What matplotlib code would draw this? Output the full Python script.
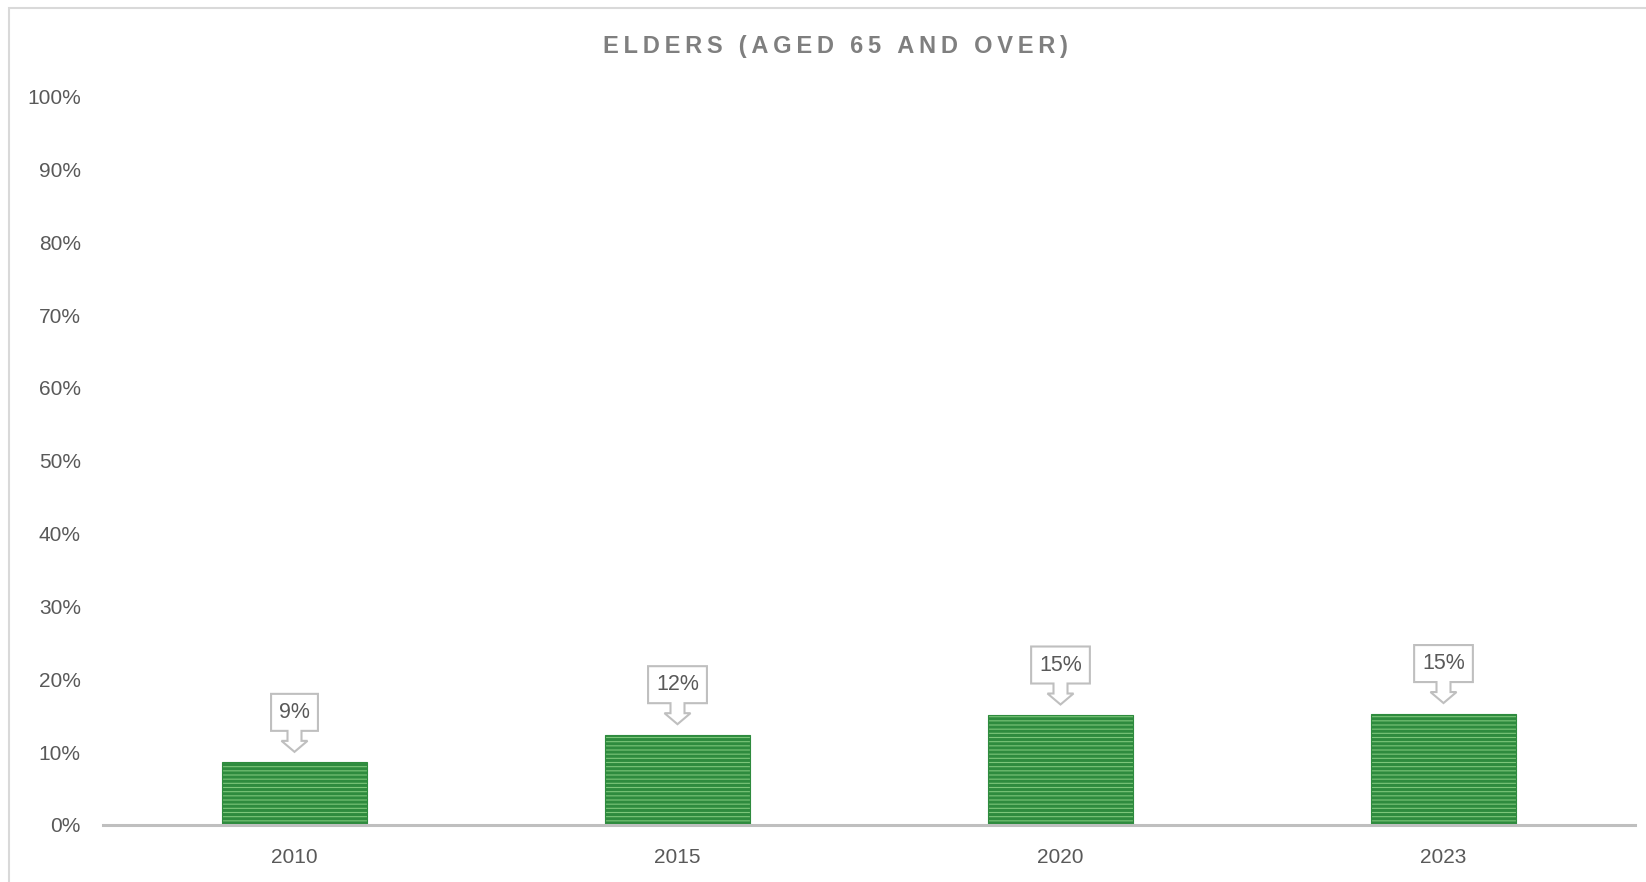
import matplotlib
matplotlib.use("Agg")
import matplotlib.pyplot as plt
from matplotlib.path import Path
from matplotlib.patches import Rectangle

# Data
years = ["2010", "2015", "2020", "2023"]
shares = [0.086, 0.124, 0.151, 0.153]
title = "ELDERS (AGED 65 AND OVER)"

TEXT = "#595959"
GRID = "#bfbfbf"


def callout_down(x0, y0, width, height, mutation_size):
    # box with a down arrow under it (display pixels)
    padx, pady = 8, 8
    x0 -= padx
    y0 -= pady
    w = width + 2 * padx
    h = height + 2 * pady
    cx = x0 + w / 2
    verts = [
        (x0, y0), (cx - 7, y0), (cx - 7, y0 - 10), (cx - 13, y0 - 10),
        (cx, y0 - 21), (cx + 13, y0 - 10), (cx + 7, y0 - 10), (cx + 7, y0),
        (x0 + w, y0), (x0 + w, y0 + h), (x0, y0 + h), (x0, y0),
    ]
    return Path(verts, closed=True)


def main():
    plt.rcParams["font.family"] = ["Liberation Sans", "DejaVu Sans"]
    plt.rcParams["hatch.color"] = "#17692a"
    plt.rcParams["hatch.linewidth"] = 2.2

    fig = plt.figure(figsize=(16.46, 8.82), dpi=100)
    ax = fig.add_axes([103 / 1646, 57 / 882, 1532 / 1646, 728.4 / 882])

    # chart border (cut off on right and bottom like the reference)
    fig.patches.append(Rectangle((9 / 1646, -0.1), 1.2, 1 - 8 / 882 + 0.1,
                                 transform=fig.transFigure, fill=False,
                                 edgecolor="#d9d9d9", linewidth=1.5))

    x = list(range(len(years)))
    ax.bar(x, shares, width=0.38, color="#7cc67a", edgecolor="#2e8b3e",
           linewidth=0.8, hatch="----", zorder=2)

    for xi, v in zip(x, shares):
        ax.annotate(f"{v:.0%}", xy=(xi, v), xytext=(0, 50),
                    textcoords="offset pixels", ha="center", va="center",
                    fontsize=15.5, color=TEXT,
                    bbox=dict(boxstyle=callout_down, facecolor="white",
                              edgecolor=GRID, linewidth=1.5))

    ax.set_xlim(-0.5, len(years) - 0.5)
    ax.set_ylim(0, 1.0)
    ax.set_xticks(x)
    ax.set_xticklabels(years)
    ax.set_yticks([i / 10 for i in range(11)])
    ax.set_yticklabels([f"{i * 10}%" for i in range(11)])
    ax.tick_params(axis="both", length=0, labelsize=15, labelcolor=TEXT)
    ax.tick_params(axis="x", pad=16.5)
    ax.tick_params(axis="y", pad=16)

    for s in ["top", "right", "left"]:
        ax.spines[s].set_visible(False)
    ax.spines["bottom"].set_color(GRID)
    ax.spines["bottom"].set_linewidth(2.2)
    ax.spines["bottom"].set_zorder(3)

    # letter-spaced title
    thin = "\u2009"
    spaced = (thin + " " + thin).join(thin.join(w) for w in title.split(" "))
    fig.text(835 / 1646, 1 - 47 / 882, spaced, ha="center", va="center",
             fontsize=17, fontweight="bold", color="#7f7f7f")

    fig.savefig("out.png", dpi=100)


if __name__ == "__main__":
    main()
